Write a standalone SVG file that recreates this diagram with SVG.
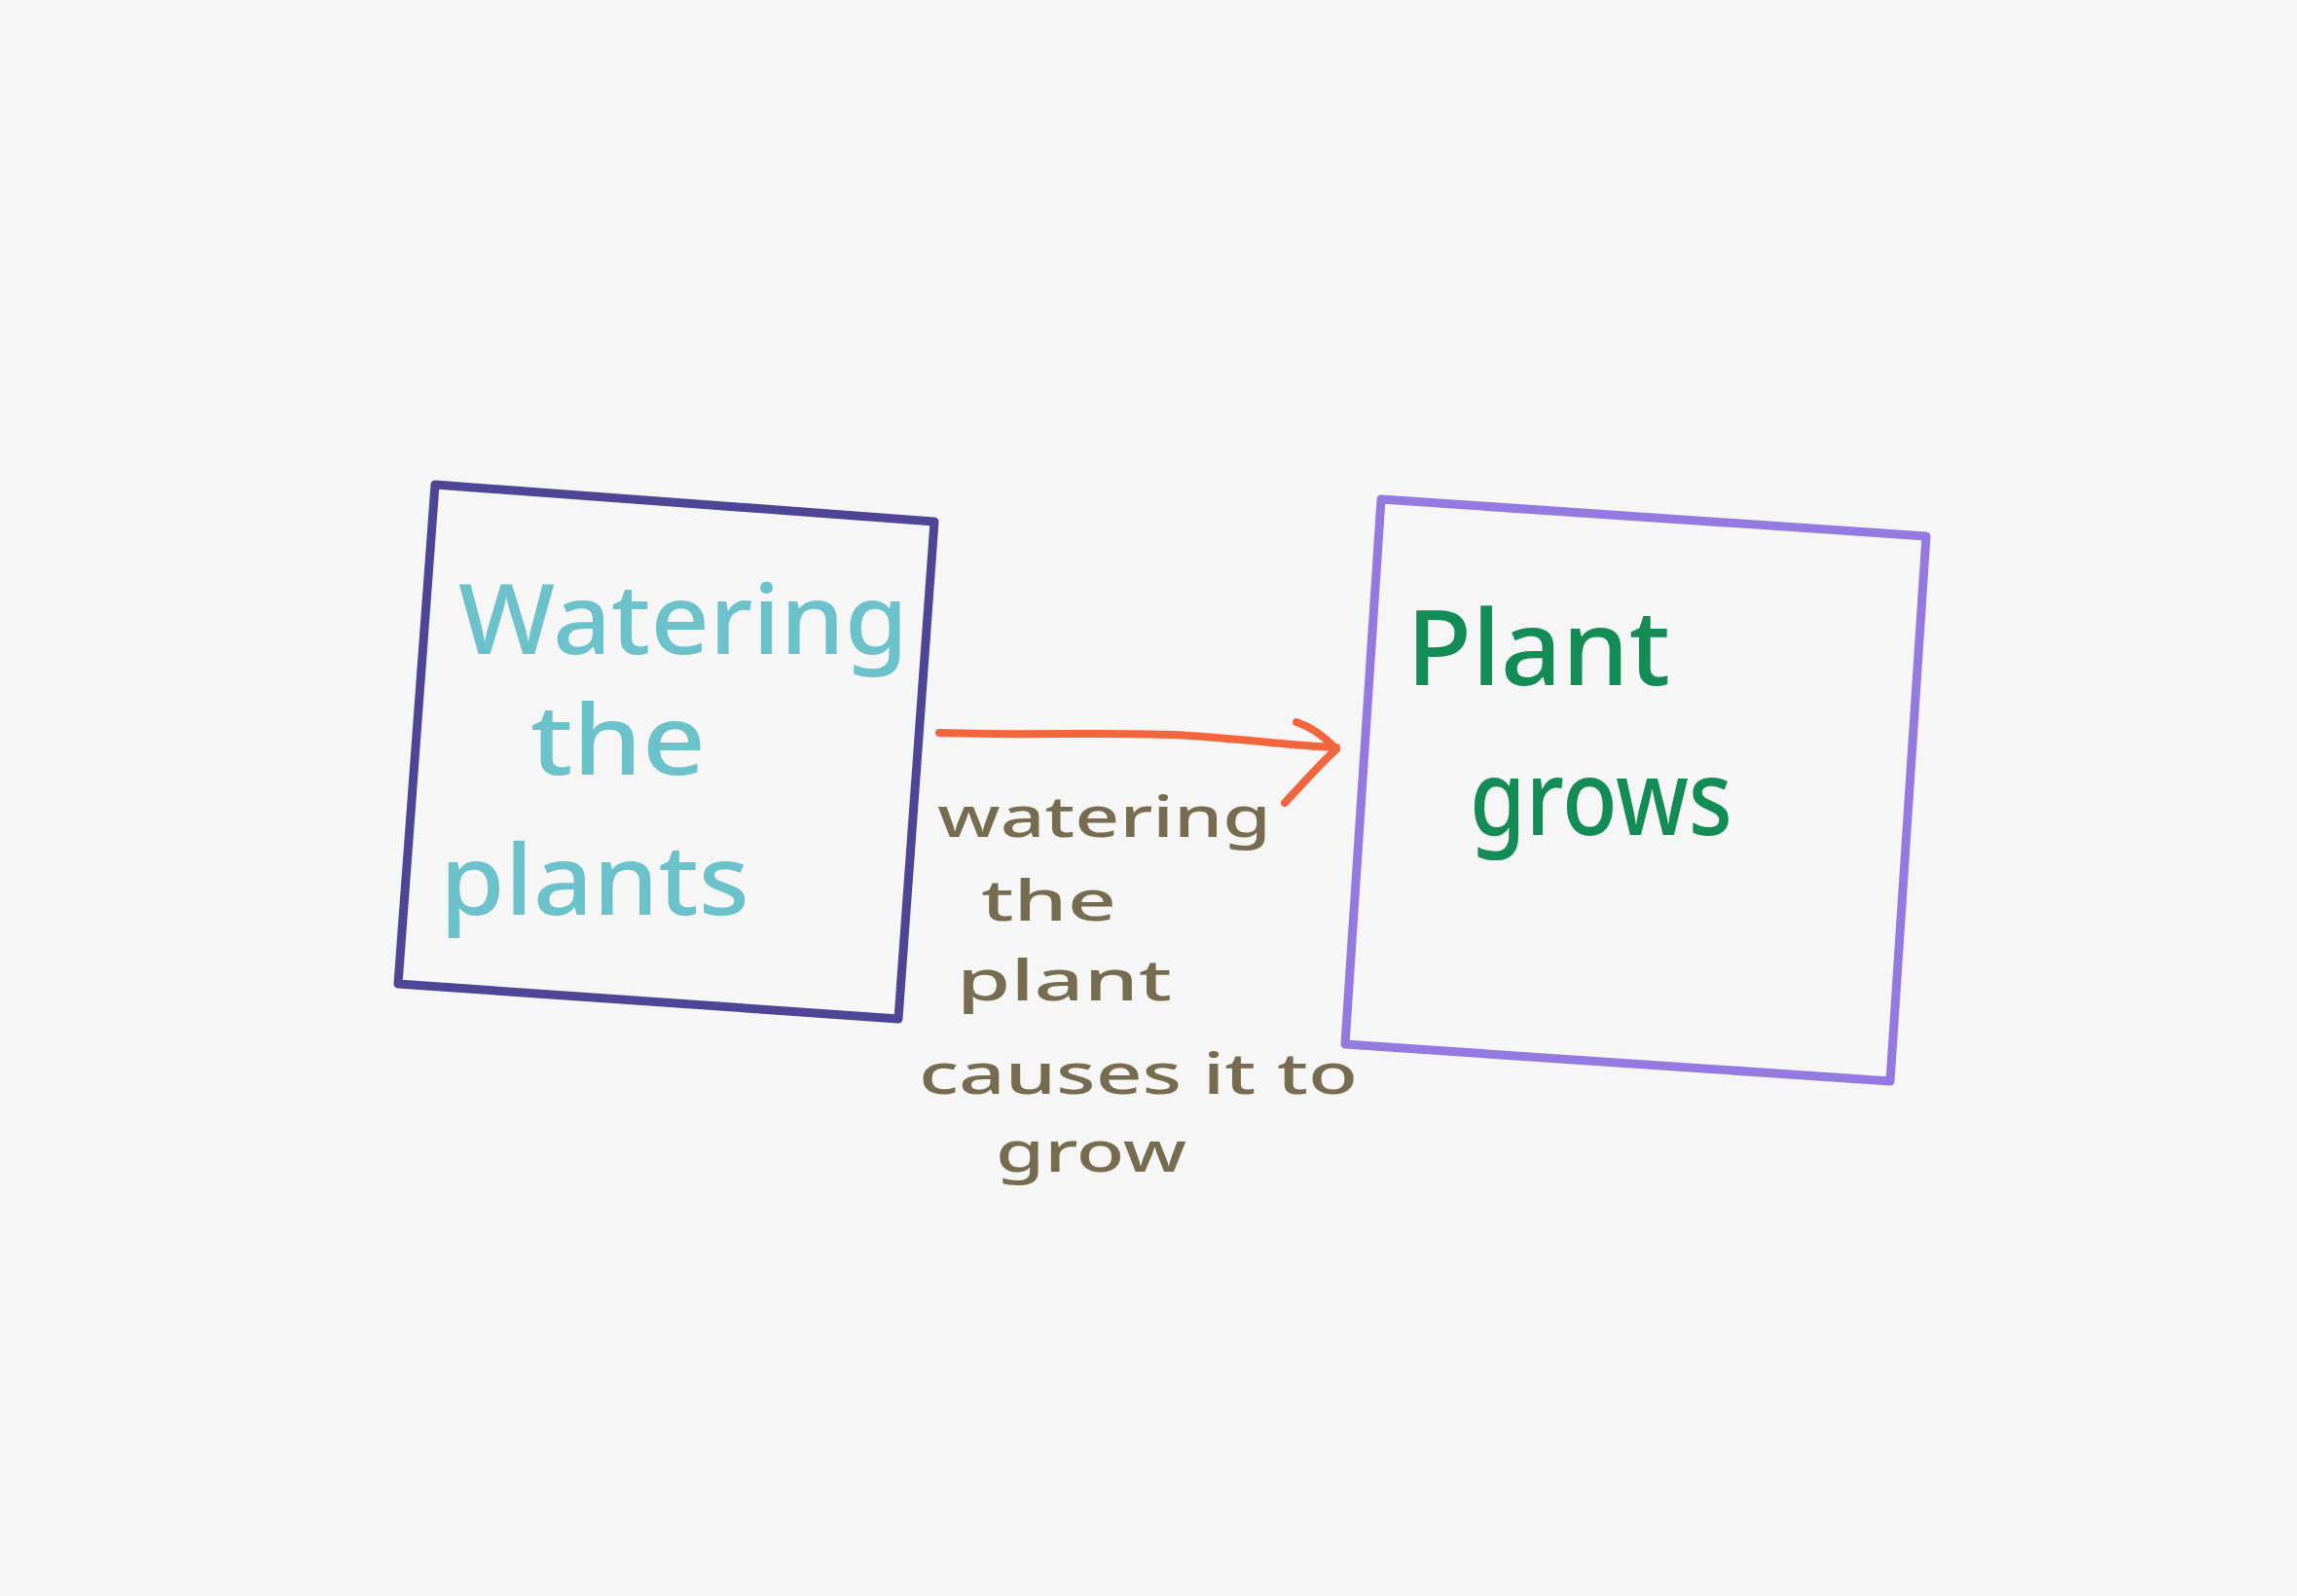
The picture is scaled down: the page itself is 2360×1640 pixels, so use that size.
<svg xmlns="http://www.w3.org/2000/svg" width="2360" height="1640" viewBox="0 0 2360 1640">
  <style>
    .box { fill: none; stroke-width: 9; stroke-linejoin: round; stroke-linecap: round; }
    .hand { font-family: "Noto Sans", "Liberation Sans", sans-serif; font-weight: 500; }
    .cause { fill: #776c4f; font-size: 58px; }
    .flow { fill: none; stroke: #f2653d; stroke-width: 8; stroke-linecap: round; stroke-linejoin: round; }
  </style>
  <rect x="0" y="0" width="2360" height="1640" fill="#f6f6f6"/>

  <!-- Cause node -->
  <g id="node-watering">
    <polygon class="box" stroke="#4f4597" points="447,498 960,536 923,1047 409,1011"/>
    <g class="hand" fill="#6bc2cb" font-size="100">
      <text x="471" y="672" textLength="462" lengthAdjust="spacingAndGlyphs">Watering</text>
      <text x="545" y="796" textLength="180" lengthAdjust="spacingAndGlyphs">the</text>
      <text x="452" y="940" textLength="318" lengthAdjust="spacingAndGlyphs">plants</text>
    </g>
  </g>

  <!-- Effect node -->
  <g id="node-grows">
    <polygon class="box" stroke="#9479e0" points="1419,513 1979,551 1942,1111 1382,1073"/>
    <g class="hand" fill="#148c55" font-size="108">
      <text x="1445" y="704" textLength="271" lengthAdjust="spacingAndGlyphs">Plant</text>
      <text x="1510" y="858" textLength="270" lengthAdjust="spacingAndGlyphs">grows</text>
    </g>
  </g>

  <!-- Connector with its label -->
  <g id="connectors">
    <path class="flow" d="M965,753 C1060,756 1140,752 1204,755 C1270,758 1320,766 1373,768"/>
    <path class="flow" d="M1332,742 C1350,748 1362,758 1373,770 C1355,786 1338,806 1320,825"/>
    <g class="hand cause">
      <text x="963" y="860" textLength="343" lengthAdjust="spacingAndGlyphs">watering</text>
      <text x="1008" y="946" textLength="139" lengthAdjust="spacingAndGlyphs">the</text>
      <text x="983" y="1028" textLength="221" lengthAdjust="spacingAndGlyphs">plant</text>
      <text x="944" y="1124" textLength="451" lengthAdjust="spacingAndGlyphs">causes it to</text>
      <text x="1023" y="1204" textLength="196" lengthAdjust="spacingAndGlyphs">grow</text>
    </g>
  </g>
</svg>
